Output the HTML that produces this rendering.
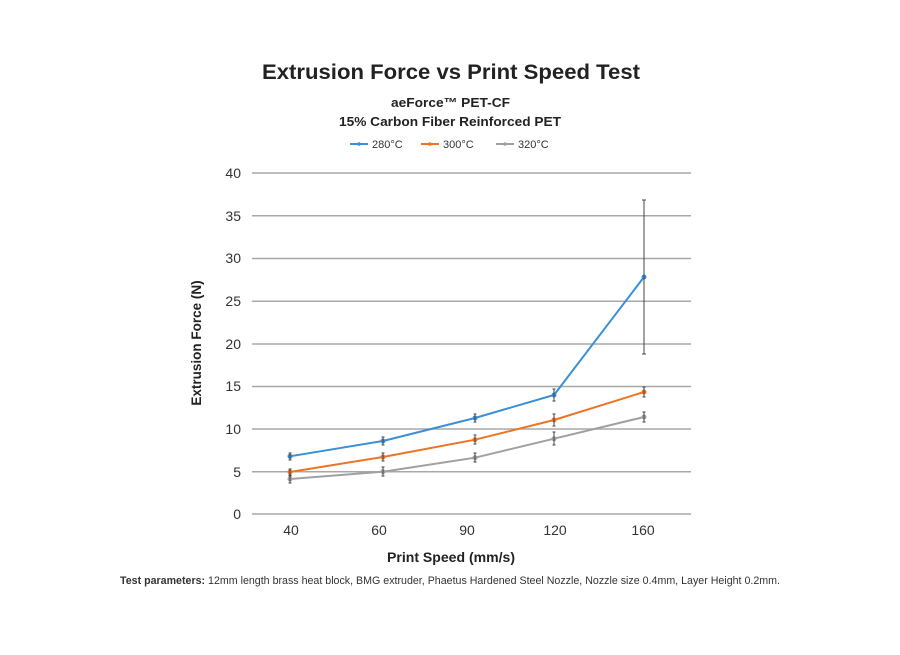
<!DOCTYPE html>
<html><head><style>
body{margin:0;background:#fff;}
svg text{font-family:"Liberation Sans",sans-serif;}
</style></head><body>
<svg width="900" height="650" xmlns="http://www.w3.org/2000/svg">
<text x="262" y="79" textLength="378" lengthAdjust="spacingAndGlyphs" font-size="21" font-weight="bold" fill="#222">Extrusion Force vs Print Speed Test</text>
<text x="391" y="107" textLength="119" lengthAdjust="spacingAndGlyphs" font-size="13" font-weight="bold" fill="#222">aeForce™ PET-CF</text>
<text x="339" y="126" textLength="222" lengthAdjust="spacingAndGlyphs" font-size="13" font-weight="bold" fill="#222">15% Carbon Fiber Reinforced PET</text>
<g font-size="11" fill="#333">
<line x1="350" y1="144" x2="368" y2="144" stroke="#3a8fd6" stroke-width="2"/><circle cx="359" cy="144" r="1.8" fill="#3a8fd6"/><text x="372" y="148">280°C</text>
<line x1="421" y1="144" x2="439" y2="144" stroke="#ec7424" stroke-width="2"/><circle cx="430" cy="144" r="1.8" fill="#ec7424"/><text x="443" y="148">300°C</text>
<line x1="496" y1="144" x2="514" y2="144" stroke="#a0a0a0" stroke-width="2"/><circle cx="505" cy="144" r="1.8" fill="#a0a0a0"/><text x="518" y="148">320°C</text>
</g>
<g stroke="#a8a8a8" stroke-width="1.5">
<line x1="252" x2="691" y1="173" y2="173"/><line x1="252" x2="691" y1="215.7" y2="215.7"/>
<line x1="252" x2="691" y1="258.5" y2="258.5"/><line x1="252" x2="691" y1="301.2" y2="301.2"/>
<line x1="252" x2="691" y1="344" y2="344"/><line x1="252" x2="691" y1="386.5" y2="386.5"/>
<line x1="252" x2="691" y1="429" y2="429"/><line x1="252" x2="691" y1="471.7" y2="471.7"/>
<line x1="252" x2="691" y1="514" y2="514"/>
</g>
<g font-size="14" fill="#333" text-anchor="end">
<text x="241" y="178">40</text><text x="241" y="221">35</text><text x="241" y="263">30</text>
<text x="241" y="306">25</text><text x="241" y="349">20</text><text x="241" y="391">15</text>
<text x="241" y="434">10</text><text x="241" y="477">5</text><text x="241" y="519">0</text>
</g>
<g font-size="14" fill="#333" text-anchor="middle">
<text x="291" y="535">40</text><text x="379" y="535">60</text><text x="467" y="535">90</text>
<text x="555" y="535">120</text><text x="643" y="535">160</text>
</g>
<text x="387" y="562" textLength="128" lengthAdjust="spacingAndGlyphs" font-size="13.5" font-weight="bold" fill="#222">Print Speed (mm/s)</text>
<text transform="translate(201,343) rotate(-90)" text-anchor="middle" font-size="13.5" font-weight="bold" fill="#222">Extrusion Force (N)</text>
<polyline points="290,479 383,471.7 475,457.7 554,438.7 644,417" fill="none" stroke="#a0a0a0" stroke-width="2"/>
<polyline points="290,472 383,457 475,439.7 554,420 644,392" fill="none" stroke="#ec7424" stroke-width="2"/>
<polyline points="290,456.3 383,441 475,418 554,395 644,277" fill="none" stroke="#3a8fd6" stroke-width="2"/>
<g fill="#a0a0a0"><circle cx="290" cy="479" r="2.5"/><circle cx="383" cy="471.7" r="2.5"/><circle cx="475" cy="457.7" r="2.5"/><circle cx="554" cy="438.7" r="2.5"/><circle cx="644" cy="417" r="2.5"/></g>
<g fill="#ec7424"><circle cx="290" cy="472" r="2.5"/><circle cx="383" cy="457" r="2.5"/><circle cx="475" cy="439.7" r="2.5"/><circle cx="554" cy="420" r="2.5"/><circle cx="644" cy="392" r="2.5"/></g>
<g fill="#3a8fd6"><circle cx="290" cy="456.3" r="2.5"/><circle cx="383" cy="441" r="2.5"/><circle cx="475" cy="418" r="2.5"/><circle cx="554" cy="395" r="2.5"/><circle cx="644" cy="277" r="2.5"/></g>
<g stroke="#444" stroke-width="1">
<path d="M290 453v7M288.5 453h3M288.5 460h3"/><path d="M383 437v8M381.5 437h3M381.5 445h3"/>
<path d="M475 414v8M473.5 414h3M473.5 422h3"/><path d="M554 389v12M552.5 389h3M552.5 401h3"/>
<path d="M644 200v154M642 200h4M642 354h4"/>
<path d="M290 469v7M288.5 469h3M288.5 476h3"/><path d="M383 453v8M381.5 453h3M381.5 461h3"/>
<path d="M475 435v9M473.5 435h3M473.5 444h3"/><path d="M554 414v12M552.5 414h3M552.5 426h3"/>
<path d="M644 387v10M642.5 387h3M642.5 397h3"/>
<path d="M290 475v8M288.5 475h3M288.5 483h3"/><path d="M383 467v9M381.5 467h3M381.5 476h3"/>
<path d="M475 453v9M473.5 453h3M473.5 462h3"/><path d="M554 432v13M552.5 432h3M552.5 445h3"/>
<path d="M644 412v10M642.5 412h3M642.5 422h3"/>
</g>
<text x="120" y="584" textLength="660" lengthAdjust="spacingAndGlyphs" font-size="11" fill="#333"><tspan font-weight="bold">Test parameters:</tspan> 12mm length brass heat block, BMG extruder, Phaetus Hardened Steel Nozzle, Nozzle size 0.4mm, Layer Height 0.2mm.</text>
</svg>
</body></html>
